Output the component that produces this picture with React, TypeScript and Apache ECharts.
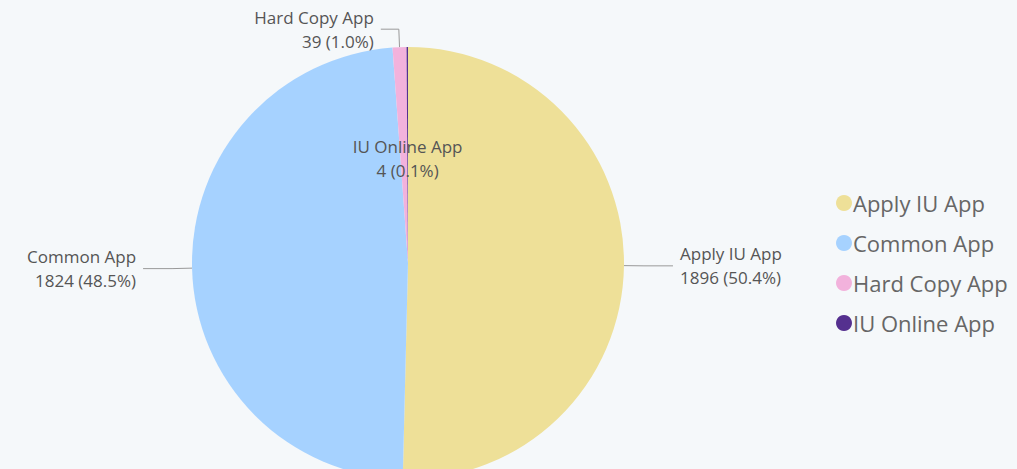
import React, { useEffect, useRef } from "react";
import * as echarts from "echarts";

const categories = ["Apply IU App", "Common App", "Hard Copy App", "IU Online App"];
const values = [1896, 1824, 39, 4];
const colors = ["#EEE098", "#A6D2FF", "#F2B2DC", "#55308F"];

export default function App() {
  const ref = useRef<HTMLDivElement>(null);
  useEffect(() => {
    if (!ref.current) return;
    const chart = echarts.init(ref.current, undefined, { renderer: "svg" });
    const data = categories.map((name, i) => {
      const item: any = { name, value: values[i], itemStyle: { color: colors[i] } };
      if (name === "IU Online App") {
        item.label = { position: "inside", color: "#555", offset: [0, 6] };
        item.labelLine = { show: false };
      }
      if (name === "Hard Copy App") {
        item.labelLine = { length: 18, length2: 18 };
      }
      return item;
    });
    chart.setOption({
      animation: false,
      backgroundColor: "#F5F8FA",
      legend: {
        orient: "vertical",
        left: 831,
        top: 187,
        icon: "circle",
        itemWidth: 16,
        itemHeight: 16,
        itemGap: 18,
        textStyle: { fontFamily: "Open Sans", fontSize: 22, color: "#666", padding: [0, 0, 0, -4] },
        data: categories,
      },
      series: [
        {
          type: "pie",
          center: [408, 263],
          radius: 216,
          startAngle: 90,
          clockwise: true,
          percentPrecision: 1,
          avoidLabelOverlap: false,
          data,
          label: {
            show: true,
            formatter: (p: any) => `${p.name}\n${p.value} (${Number(p.percent).toFixed(1)}%)`,
            fontFamily: "Open Sans",
            fontSize: 17,
            lineHeight: 24,
            color: "#555",
            distanceToLabelLine: 7,
          },
          labelLine: {
            show: true,
            length: 20,
            length2: 29,
            lineStyle: { color: "#999", width: 1 },
          },
        },
      ],
    });
    return () => chart.dispose();
  }, []);
  return (
    <div
      ref={ref}
      style={{ position: "fixed", left: 0, top: 0, width: 1017, height: 469 }}
    />
  );
}
